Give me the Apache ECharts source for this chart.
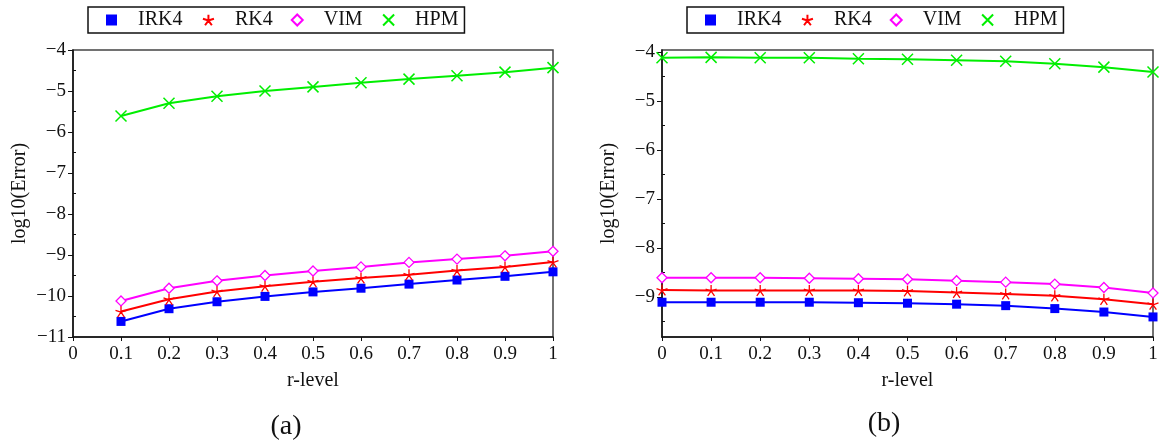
<!DOCTYPE html>
<html>
<head>
<meta charset="utf-8">
<script src="https://cdn.jsdelivr.net/npm/echarts@6/dist/echarts.min.js"></script>
<style>
  html, body { margin: 0; padding: 0; background: #fff; }
  #chart { width: 1161px; height: 441px; }
</style>
</head>
<body>
<div id="chart"></div>
<script>
// ---- data ----
const xA = [0.1, 0.2, 0.3, 0.4, 0.5, 0.6, 0.7, 0.8, 0.9, 1.0];
const xB = [0, 0.1, 0.2, 0.3, 0.4, 0.5, 0.6, 0.7, 0.8, 0.9, 1.0];

const irk4A = [-10.62, -10.31, -10.14, -10.01, -9.90, -9.81, -9.71, -9.61, -9.52, -9.41];
const rk4A  = [-10.38, -10.08, -9.89, -9.76, -9.65, -9.56, -9.48, -9.38, -9.29, -9.17];
const vimA  = [-10.12, -9.81, -9.63, -9.50, -9.39, -9.29, -9.18, -9.10, -9.02, -8.91];
const hpmA  = [-5.61, -5.30, -5.13, -5.00, -4.90, -4.80, -4.71, -4.63, -4.54, -4.43];

const irk4B = [-9.11, -9.11, -9.11, -9.11, -9.12, -9.13, -9.15, -9.18, -9.24, -9.31, -9.41];
const rk4B  = [-8.86, -8.87, -8.87, -8.87, -8.87, -8.88, -8.91, -8.94, -8.98, -9.05, -9.15];
const vimB  = [-8.61, -8.61, -8.61, -8.62, -8.63, -8.64, -8.67, -8.70, -8.74, -8.81, -8.92];
const hpmB  = [-4.12, -4.11, -4.12, -4.12, -4.14, -4.15, -4.17, -4.19, -4.24, -4.31, -4.41];

const yTicksA = [-11, -10, -9, -8, -7, -6, -5, -4];
const yMinorA = [-10.5, -9.5, -8.5, -7.5, -6.5, -5.5, -4.5];
const yTicksB = [-9, -8, -7, -6, -5, -4];
const yMinorB = [-9.5, -8.5, -7.5, -6.5, -5.5, -4.5];

const names = ['IRK4', 'RK4', 'VIM', 'HPM'];

// ---- look ----
const FONT = '"Liberation Serif", "DejaVu Serif", serif';
const COL = { IRK4: '#0000ff', RK4: '#ff0000', VIM: '#ff00ff', HPM: '#00ee00' };
const STAR = 'path://M5,5L5,0M5,5L9.76,3.45M5,5L7.94,9.05M5,5L2.06,9.05M5,5L0.24,3.45';
const CROSS = 'path://M0,0L10,10M10,0L0,10';
const SYM = {
  IRK4: { symbol: 'rect', size: 9, item: { color: COL.IRK4 } },
  RK4:  { symbol: STAR, size: 11, item: { color: 'none', borderColor: COL.RK4, borderWidth: 1.3 } },
  VIM:  { symbol: 'diamond', size: 10, item: { color: '#fff', borderColor: COL.VIM, borderWidth: 1.3 } },
  HPM:  { symbol: CROSS, size: 11, item: { color: 'none', borderColor: COL.HPM, borderWidth: 1.5 } },
};

const minus = v => String(v).replace('-', '\u2212');
const xFmt = v => (v === 0 ? '0' : v === 1 ? '1' : v.toFixed(1));

function mkSeries(name, xs, ys, idx) {
  const s = SYM[name];
  return {
    type: 'line', name: name,
    xAxisIndex: idx, yAxisIndex: idx * 2,
    data: xs.map((x, i) => [x, ys[i]]),
    symbol: s.symbol, symbolSize: s.size, showSymbol: true,
    lineStyle: { color: COL[name], width: 2 },
    itemStyle: s.item,
    emphasis: { disabled: true },
    animation: false,
  };
}

function mkLegend(left) {
  return {
    left: left, top: 7,
    data: names.map(n => ({ name: n, icon: SYM[n].symbol })),
    itemWidth: 11, itemHeight: 11, itemGap: 18,
    borderColor: '#111', borderWidth: 1.5,
    padding: [3, 6, 3, 18],
    textStyle: { fontFamily: FONT, fontSize: 20, color: '#111', padding: [0, 0, 0, 16] },
    selectedMode: false,
  };
}

function mkX(grid, name) {
  return {
    type: 'value', gridIndex: grid, min: 0, max: 1, interval: 0.1,
    name: name, nameLocation: 'middle', nameGap: 34,
    nameTextStyle: { fontFamily: FONT, fontSize: 20, color: '#111' },
    axisLine: { show: true, onZero: false, lineStyle: { color: '#111', width: 1.5 } },
    axisTick: { show: true, length: 4, lineStyle: { color: '#111' } },
    axisLabel: { fontFamily: FONT, fontSize: 19, color: '#111', margin: 8, formatter: xFmt },
    splitLine: { show: false },
  };
}

function mkY(grid, min, max, ticks) {
  return {
    type: 'value', gridIndex: grid, min: min, max: max,
    name: 'log10(Error)', nameLocation: 'middle', nameGap: 43,
    nameTextStyle: { fontFamily: FONT, fontSize: 20, color: '#111' },
    axisLine: { show: true, onZero: false, lineStyle: { color: '#111', width: 1.5 } },
    axisTick: { show: true, length: 5, customValues: ticks, lineStyle: { color: '#111' } },
    axisLabel: { fontFamily: FONT, fontSize: 19, color: '#111', margin: 7, customValues: ticks, formatter: minus },
    splitLine: { show: false },
  };
}

function mkMinor(grid, min, max, ticks) {
  return {
    type: 'value', gridIndex: grid, min: min, max: max,
    axisLine: { show: false },
    axisTick: { show: true, length: 3, customValues: ticks, lineStyle: { color: '#111' } },
    axisLabel: { show: false, customValues: ticks },
    splitLine: { show: false },
  };
}

const chart = echarts.init(document.getElementById('chart'), null, { renderer: 'canvas' });
chart.setOption({
  backgroundColor: '#fff',
  animation: false,
  title: [
    { text: '(a)', left: 281, top: 422, textAlign: 'center', textVerticalAlign: 'middle',
      textStyle: { fontFamily: FONT, fontSize: 28, fontWeight: 'normal', color: '#111' } },
    { text: '(b)', left: 879, top: 419, textAlign: 'center', textVerticalAlign: 'middle',
      textStyle: { fontFamily: FONT, fontSize: 28, fontWeight: 'normal', color: '#111' } },
  ],
  legend: [mkLegend(88), mkLegend(687)],
  grid: [
    { left: 73, top: 50, width: 480, height: 287, show: true, borderColor: '#444', borderWidth: 1.5 },
    { left: 662, top: 50, width: 491, height: 287, show: true, borderColor: '#444', borderWidth: 1.5 },
  ],
  xAxis: [mkX(0, 'r-level'), mkX(1, 'r-level')],
  yAxis: [
    mkY(0, -11, -4, yTicksA), mkMinor(0, -11, -4, yMinorA),
    mkY(1, -9.82, -3.96, yTicksB), mkMinor(1, -9.82, -3.96, yMinorB),
  ],
  series: [
    mkSeries('IRK4', xA, irk4A, 0),
    mkSeries('RK4', xA, rk4A, 0),
    mkSeries('VIM', xA, vimA, 0),
    mkSeries('HPM', xA, hpmA, 0),
    mkSeries('IRK4', xB, irk4B, 1),
    mkSeries('RK4', xB, rk4B, 1),
    mkSeries('VIM', xB, vimB, 1),
    mkSeries('HPM', xB, hpmB, 1),
  ],
});
</script>
</body>
</html>
